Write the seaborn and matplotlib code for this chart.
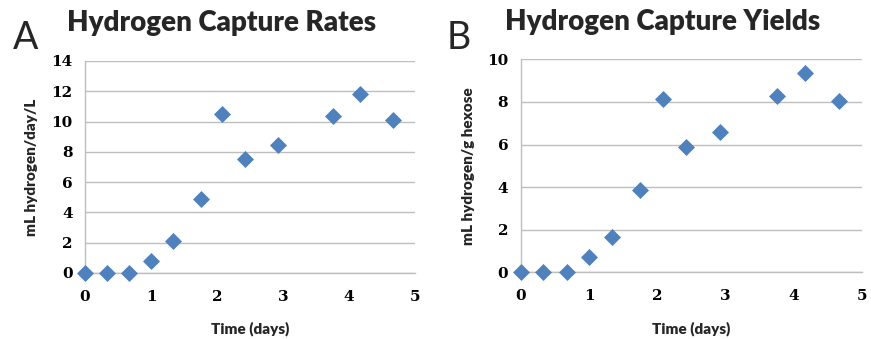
import matplotlib
matplotlib.use("Agg")
import matplotlib.pyplot as plt
import seaborn as sns
import pandas as pd

# Data
time_days = [0, 0.33, 0.67, 1.0, 1.33, 1.75, 2.08, 2.42, 2.92, 3.75, 4.17, 4.67]
capture_rate = [0, 0, 0, 0.8, 2.1, 4.9, 10.5, 7.55, 8.45, 10.4, 11.8, 10.1]
capture_yield = [0, 0, 0, 0.7, 1.65, 3.85, 8.15, 5.87, 6.6, 8.27, 9.37, 8.05]

x_ticks = [0, 1, 2, 3, 4, 5]
rate_ticks = [0, 2, 4, 6, 8, 10, 12, 14]
yield_ticks = [0, 2, 4, 6, 8, 10]

df = pd.DataFrame({"time": time_days, "rate": capture_rate, "yield": capture_yield})

sns.set_style("white")
plt.rcParams["font.family"] = ["Lato", "DejaVu Sans"]

blue = "#4F81BD"
grid_col = "#BEBEBE"
tick_font = dict(family="DejaVu Serif", weight="bold", size=11)

fig = plt.figure(figsize=(8.71, 3.39), dpi=100)
ax1 = fig.add_axes([0.0976, 0.1947, 0.3789, 0.6254])
ax2 = fig.add_axes([0.598, 0.1968, 0.3915, 0.628])

panels = [
    (ax1, "rate", rate_ticks, "mL hydrogen/day/L", -0.142),
    (ax2, "yield", yield_ticks, "mL hydrogen/g hexose", -0.135),
]

for ax, col, yt, ylab, ylab_x in panels:
    sns.scatterplot(data=df, x="time", y=col, ax=ax, marker="D", s=75,
                    color=blue, edgecolor=blue, linewidth=0, zorder=3, clip_on=False)
    ax.set_xlim(0, 5)
    ax.set_ylim(yt[0], yt[-1])
    ax.set_xticks(x_ticks)
    ax.set_yticks(yt)
    ax.set_xticklabels([str(t) for t in x_ticks], fontdict=tick_font)
    ax.set_yticklabels([str(t) for t in yt], fontdict=tick_font)
    ax.yaxis.grid(True, color=grid_col, linewidth=1)
    ax.set_axisbelow(True)
    for s in ["top", "right"]:
        ax.spines[s].set_visible(False)
    for s in ["left", "bottom"]:
        ax.spines[s].set_color(grid_col)
        ax.spines[s].set_linewidth(1)
    ax.tick_params(axis="both", direction="out", length=5, width=1, color=grid_col,
                   labelcolor="black")
    ax.tick_params(axis="x", pad=7)
    ax.tick_params(axis="y", pad=4)
    ax.set_xlabel("Time (days)", fontsize=11, fontweight="heavy")
    ax.set_ylabel(ylab, fontsize=11, fontweight="heavy")
    ax.xaxis.set_label_coords(0.5, -0.23)
    ax.yaxis.set_label_coords(ylab_x, 0.5)

fig.text(222 / 871, 1 - 23 / 339, "Hydrogen Capture Rates", ha="center", va="center",
         fontsize=20, fontweight="heavy")
fig.text(663 / 871, 1 - 22 / 339, "Hydrogen Capture Yields", ha="center", va="center",
         fontsize=20, fontweight="heavy")
fig.text(26 / 871, 1 - 38 / 339, "A", ha="center", va="center", fontsize=27)
fig.text(459 / 871, 1 - 38 / 339, "B", ha="center", va="center", fontsize=27)

plt.savefig("out.png", dpi=100)
